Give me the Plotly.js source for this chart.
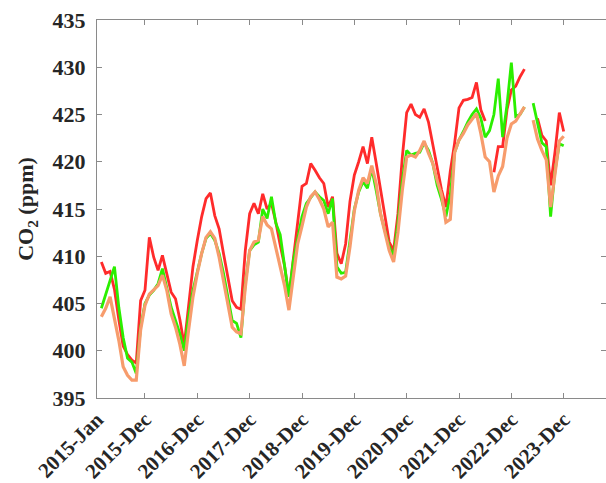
<!DOCTYPE html>
<html>
<head>
<meta charset="utf-8">
<script src="https://cdn.plot.ly/plotly-3.0.1.min.js"></script>
<style>
html,body{margin:0;padding:0;overflow:hidden;background:#fff;width:606px;height:483px;}
#chart{width:640px;height:483px;}
</style>
</head>
<body>
<div id="chart"></div>
<script>
// Tick positions (month index) and labels
const tickVals = [0, 11, 23, 35, 47, 59, 71, 83, 95, 107];
const tickLabels = ['2015-Jan','2015-Dec','2016-Dec','2017-Dec','2018-Dec','2019-Dec','2020-Dec','2021-Dec','2022-Dec','2023-Dec'];
const yTicks = [395,400,405,410,415,420,425,430,435];

// Monthly CO2 values (ppm), month index 1..107
const redSeries = [
 409.4,408.2,408.4,406.5,403.3,400.5,399.6,399.0,398.7,405.3,406.4,412.0,
 409.9,408.5,410.1,408.0,406.2,405.5,403.3,400.6,405.0,408.9,411.7,414.2,
 416.1,416.7,414.3,412.9,410.3,407.8,405.3,404.6,404.4,410.6,414.5,415.6,
 414.5,416.6,415.0,415.6,413.6,411.2,409.0,405.8,409.5,413.8,417.4,417.7,
 419.8,419.1,418.3,417.7,415.2,416.3,410.3,409.2,411.3,415.8,418.6,420.0,
 421.6,419.8,422.6,419.9,417.2,414.4,411.5,410.6,414.5,420.5,425.2,426.1,
 425.0,424.7,425.6,424.2,421.8,419.0,417.0,415.2,419.0,422.0,425.7,426.5,
 426.6,426.8,428.4,425.5,424.3,null,418.9,421.6,421.6,425.5,427.6,428.0,
 429.0,429.8,null,null,424.6,422.8,422.2,417.5,421.0,425.2,423.2
];
const greenSeries = [
 404.5,405.9,407.4,408.9,404.6,401.4,399.2,398.8,397.6,402.5,405.0,405.9,
 406.4,407.1,408.7,406.7,404.6,403.2,401.8,400.0,403.6,406.4,408.5,410.3,
 411.9,412.4,411.7,410.3,408.2,405.7,403.2,402.9,401.4,407.1,410.6,411.2,
 411.5,415.0,414.0,416.3,413.5,412.3,409.0,405.7,409.5,412.0,414.2,415.6,
 416.2,416.8,416.3,415.9,414.5,416.1,408.9,408.2,408.3,411.8,415.0,416.8,
 417.9,417.2,419.3,417.0,414.5,412.7,411.0,410.0,413.5,418.0,421.2,420.7,
 420.9,421.0,422.0,421.2,419.8,417.5,416.0,414.2,416.5,421.0,422.3,423.2,
 424.2,425.0,425.6,424.6,422.6,423.3,425.0,428.8,422.6,426.0,430.5,424.8,
 425.0,425.8,null,426.2,424.2,422.0,421.6,414.2,419.0,421.9,421.7
];
const orangeSeries = [
 403.6,404.5,405.7,403.4,401.1,398.3,397.4,396.9,396.9,402.2,404.8,406.0,
 406.4,406.9,408.0,406.4,403.9,402.5,400.7,398.4,402.2,405.7,408.2,410.3,
 412.0,412.6,411.9,409.9,407.4,405.0,402.5,402.0,401.8,406.7,410.6,411.5,
 411.7,414.2,413.3,412.9,410.9,409.0,406.9,404.3,407.8,411.3,413.2,415.2,
 416.3,416.8,416.0,415.0,413.1,413.6,407.8,407.6,407.9,411.0,414.8,417.0,
 418.3,417.7,419.6,417.7,414.5,412.4,410.6,409.4,412.5,417.0,420.5,420.7,
 420.5,421.2,422.2,420.9,419.8,418.0,416.5,413.6,413.9,421.0,422.3,423.0,
 423.9,424.5,425.1,423.0,420.5,420.0,416.8,418.5,419.5,422.5,424.0,424.3,
 425.0,425.8,null,424.4,422.4,421.2,420.2,415.2,419.0,422.2,422.7
];

const monthIndex = redSeries.map((_, i) => i + 1);

const traces = [
  {x: monthIndex, y: redSeries, mode: 'lines', line: {color: '#FF2B2B', width: 2.8}, connectgaps: false, showlegend: false},
  {x: monthIndex, y: greenSeries, mode: 'lines', line: {color: '#2BEF00', width: 2.8}, connectgaps: false, showlegend: false},
  {x: monthIndex, y: orangeSeries, mode: 'lines', line: {color: '#F79C6C', width: 3.2}, connectgaps: false, showlegend: false}
];

const fontFam = '"Liberation Serif", "Times New Roman", serif';
const layout = {
  width: 640, height: 483,
  margin: {l: 97, r: 34, t: 20, b: 85},
  paper_bgcolor: '#fff', plot_bgcolor: '#fff',
  font: {family: fontFam, color: '#262626', size: 21, weight: 'bold'},
  xaxis: {
    range: [0, 116.7],
    tickvals: tickVals, ticktext: tickLabels,
    tickangle: -45,
    ticks: 'inside', ticklen: 5, tickcolor: '#8a8a8a', tickwidth: 1,
    showline: true, linecolor: '#8a8a8a', linewidth: 1, mirror: 'ticks',
    showgrid: false, zeroline: false,
    tickfont: {family: fontFam, size: 21, color: '#262626', weight: 'bold'}
  },
  yaxis: {
    range: [395, 435],
    tickvals: yTicks,
    ticks: 'inside', ticklen: 5, tickcolor: '#8a8a8a', tickwidth: 1,
    showline: true, linecolor: '#8a8a8a', linewidth: 1, mirror: 'ticks',
    showgrid: false, zeroline: false,
    ticklabelstandoff: 6,
    tickfont: {family: fontFam, size: 22, color: '#262626', weight: 'bold'},
    title: {text: 'CO<sub>2</sub> (ppm)', standoff: 12, font: {family: fontFam, size: 22, color: '#262626', weight: 'bold'}}
  }
};

Plotly.newPlot('chart', traces, layout, {displayModeBar: false, staticPlot: true});
</script>
</body>
</html>
